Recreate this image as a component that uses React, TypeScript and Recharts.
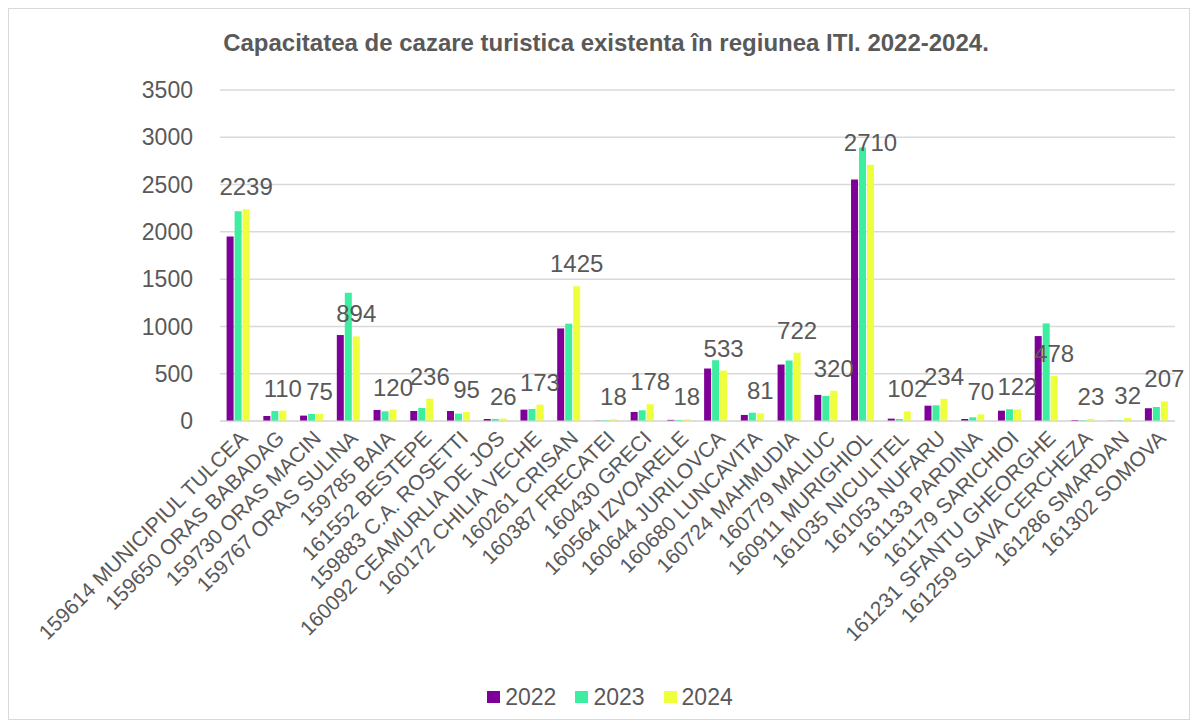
import { BarChart, Bar, XAxis, YAxis, CartesianGrid, Legend, LabelList } from 'recharts';

const categories = [
  '159614 MUNICIPIUL TULCEA',
  '159650 ORAS BABADAG',
  '159730 ORAS MACIN',
  '159767 ORAS SULINA',
  '159785 BAIA',
  '161552 BESTEPE',
  '159883 C.A. ROSETTI',
  '160092 CEAMURLIA DE JOS',
  '160172 CHILIA VECHE',
  '160261 CRISAN',
  '160387 FRECATEI',
  '160430 GRECI',
  '160564 IZVOARELE',
  '160644 JURILOVCA',
  '160680 LUNCAVITA',
  '160724 MAHMUDIA',
  '160779 MALIUC',
  '160911 MURIGHIOL',
  '161035 NICULITEL',
  '161053 NUFARU',
  '161133 PARDINA',
  '161179 SARICHIOI',
  '161231 SFANTU GHEORGHE',
  '161259 SLAVA CERCHEZA',
  '161286 SMARDAN',
  '161302 SOMOVA',
];

const values2022 = [1952, 53, 57, 909, 117, 106, 106, 21, 120, 979, 3, 95, 12, 555, 64, 597, 276, 2553, 25, 162, 21, 109, 898, 10, 2, 135];
const values2023 = [2217, 106, 74, 1357, 102, 138, 78, 22, 127, 1029, 8, 113, 12, 643, 88, 640, 265, 2892, 21, 166, 39, 124, 1032, 8, 5, 148];
const values2024 = [2239, 110, 75, 894, 120, 236, 95, 26, 173, 1425, 18, 178, 18, 533, 81, 722, 320, 2710, 102, 234, 70, 122, 478, 23, 32, 207];

const yTicks = [0, 500, 1000, 1500, 2000, 2500, 3000, 3500];

const data = categories.map((name, i) => ({
  name,
  '2022': values2022[i],
  '2023': values2023[i],
  '2024': values2024[i],
}));

const FONT = '"Liberation Sans", Arial, sans-serif';
const GREY = '#595959';

function LegendBox({ payload }: any) {
  return (
    <div
      style={{
        display: 'flex',
        justifyContent: 'center',
        gap: 19,
        height: 30,
        alignItems: 'center',
        paddingLeft: 22,
        fontFamily: FONT,
      }}
    >
      {(payload || []).map((p: any) => (
        <div key={p.value} style={{ display: 'flex', alignItems: 'center' }}>
          <span style={{ display: 'inline-block', width: 13, height: 12, background: p.color, marginRight: 5 }} />
          <span style={{ color: GREY, fontSize: 23 }}>{p.value}</span>
        </div>
      ))}
    </div>
  );
}

export default function App() {
  return (
    <div
      style={{
        position: 'relative',
        width: 1182,
        height: 712,
        boxSizing: 'border-box',
        border: '1px solid #d9d9d9',
        background: '#fff',
        fontFamily: FONT,
      }}
    >
      <div
        style={{
          position: 'absolute',
          top: 20,
          left: 7,
          width: 1180,
          textAlign: 'center',
          fontSize: 24,
          fontWeight: 'bold',
          color: GREY,
        }}
      >
        Capacitatea de cazare turistica existenta în regiunea ITI. 2022-2024.
      </div>
      <BarChart
        width={1180}
        height={710}
        data={data}
        margin={{ top: 81, right: 14, left: 151, bottom: 7 }}
        barCategoryGap="18%"
        barGap={1}
      >
        <CartesianGrid vertical={false} stroke="#d9d9d9" strokeWidth={1.5} />
        <XAxis
          dataKey="name"
          interval={0}
          angle={-45}
          textAnchor="end"
          height={261}
          tickLine={false}
          stroke="#d9d9d9"
          tick={{ fill: GREY, fontSize: 21, fontFamily: FONT }}
        />
        <YAxis
          width={60}
          domain={[0, 3500]}
          ticks={yTicks}
          axisLine={false}
          tickLine={false}
          tickMargin={21}
          tick={{ fill: GREY, fontSize: 23, fontFamily: FONT }}
        />
        <Legend
          verticalAlign="bottom"
          wrapperStyle={{ left: 0, width: 1180 }}
          content={<LegendBox />}
        />
        <Bar dataKey="2022" fill="#7F0099" isAnimationActive={false} />
        <Bar dataKey="2023" fill="#3DEEA0" isAnimationActive={false} />
        <Bar dataKey="2024" fill="#EEFF3C" isAnimationActive={false}>
          <LabelList dataKey="2024" position="top" offset={14} fill={GREY} fontSize={24} fontFamily={FONT} />
        </Bar>
      </BarChart>
    </div>
  );
}
